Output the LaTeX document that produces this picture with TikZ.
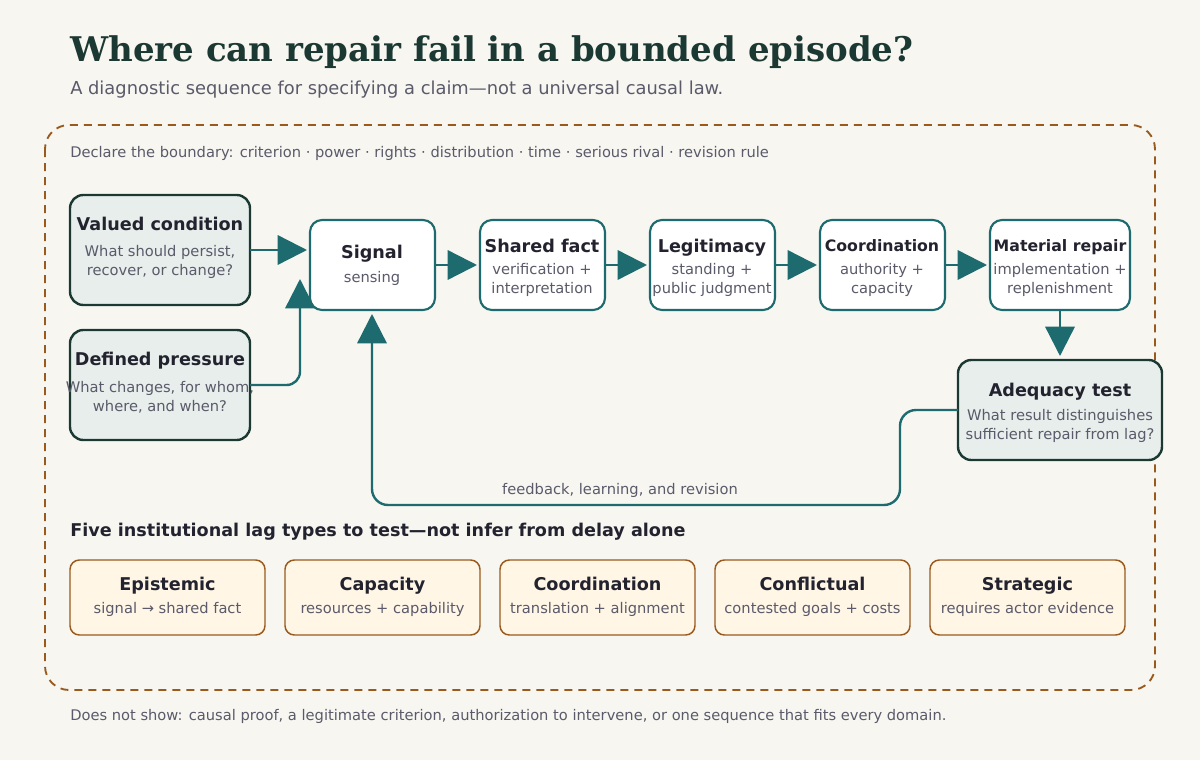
\documentclass[tikz,border=0pt]{standalone}
\usepackage{fontspec}
\setmainfont{DejaVu Sans}
\newfontfamily\serifbf{DejaVu Serif}
\usetikzlibrary{arrows.meta}
\definecolor{bg}{HTML}{F7F6F1}
\definecolor{teal}{HTML}{1D6B6E}
\definecolor{dark}{HTML}{1C3832}
\definecolor{pale}{HTML}{E7EEEB}
\definecolor{ink}{HTML}{23232F}
\definecolor{grey}{HTML}{5A5A6A}
\definecolor{brown}{HTML}{9A5A1E}
\definecolor{cream}{HTML}{FFF6E6}
\begin{document}
\begin{tikzpicture}[x=0.75pt,y=-0.75pt,
  ttl/.style={font=\bfseries\fontsize{13.2}{15}\selectfont,text=ink,anchor=base},
  sub/.style={font=\fontsize{11}{14.5}\selectfont,text=grey},
  inbox/.style={draw=dark,line width=1.8pt,fill=pale,rounded corners=10pt},
  stepbox/.style={draw=teal,line width=1.6pt,fill=white,rounded corners=9pt},
  lagbox/.style={draw=brown,line width=1.1pt,fill=cream,rounded corners=7pt},
  arr/.style={draw=teal,line width=1.8pt,-{Triangle[length=22pt,width=22pt]}}]
\fill[bg] (0,0) rectangle (1200,760);
\node[anchor=west,inner sep=0pt,font=\serifbf\bfseries\fontsize{25.5}{28}\selectfont,text=dark] (title) at (70,52) {Where can repair fail in a bounded episode?};
\node[anchor=west,inner sep=0pt,font=\fontsize{13.4}{15}\selectfont,text=grey] (subt) at (70,90) {A diagnostic sequence for specifying a claim—not a universal causal law.};
\draw[brown,line width=1.4pt,dash pattern=on 6pt off 4.5pt,rounded corners=18pt] (45,125) rectangle (1155,690);
\node[anchor=west,inner sep=0pt,sub] (bnd) at (70,153) {Declare the boundary: criterion · power · rights · distribution · time · serious rival · revision rule};
% input boxes
\draw[inbox] (70,195) rectangle (250,305);
\node[ttl] (vc) at (160,230) {Valued condition};
\node[sub,align=center] at (160,262) {What should persist,\\recover, or change?};
\draw[inbox] (70,330) rectangle (250,440);
\node[ttl] at (160,365) {Defined pressure};
\node[sub,align=center] at (160,397) {What changes, for whom,\\where, and when?};
% steps
\foreach \xa/\xb in {310/435,480/605,650/775,820/945,990/1130}{
  \draw[stepbox] (\xa,220) rectangle (\xb,310);
}
\node[ttl] at (372,258) {Signal};
\node[sub] at (372,278) {sensing};
\node[ttl] at (542,252) {Shared fact};
\node[sub,align=center] at (542,280) {verification +\\interpretation};
\node[ttl] at (712,252) {Legitimacy};
\node[sub,align=center] at (712,280) {standing +\\public judgment};
\node[ttl,font=\bfseries\fontsize{11.8}{14}\selectfont] at (882,251) {Coordination};
\node[sub,align=center] at (882,280) {authority +\\capacity};
\node[ttl,font=\bfseries\fontsize{11.8}{14}\selectfont] at (1060,251) {Material repair};
\node[sub,align=center] at (1060,280) {implementation +\\replenishment};
% adequacy
\draw[inbox] (958,360) rectangle (1162,460);
\node[ttl] at (1060,396) {Adequacy test};
\node[sub,align=center] at (1060,426) {What result distinguishes\\sufficient repair from lag?};
% arrows
\coordinate (a1) at (250,250); \coordinate (a1e) at (307,250);
\draw[arr] (a1) -- (a1e);
\coordinate (p1) at (250,385); \coordinate (p1e) at (300,279);
\draw[arr,rounded corners=10pt] (p1) -- (300,385) -- (p1e);
\foreach \xa/\xb in {435/477,605/647,775/817,945/987}{
  \coordinate (s\xa) at (\xa,265); \coordinate (e\xa) at (\xb,265);
  \draw[arr] (s\xa) -- (e\xa);}
\coordinate (m1) at (1060,310); \coordinate (m1e) at (1060,356);
\draw[arr] (m1) -- (m1e);
\coordinate (f1) at (958,410); \coordinate (f1e) at (372,314);
\draw[arr,rounded corners=12pt] (f1) -- (900,410) -- (900,505) -- (372,505) -- (f1e);
\node[sub] (fb) at (620,490) {feedback, learning, and revision};
% lag types
\node[anchor=west,inner sep=0pt,font=\bfseries\fontsize{13.2}{15}\selectfont,text=ink] (lagh) at (70,532) {Five institutional lag types to test—not infer from delay alone};
\foreach \xa/\t/\s in {70/Epistemic/{signal → shared fact},285/Capacity/{resources + capability},500/Coordination/{translation + alignment},715/Conflictual/{contested goals + costs},930/Strategic/{requires actor evidence}}{
  \draw[lagbox] (\xa,560) rectangle (\xa+195,635);
  \node[ttl] at (\xa+97.5,590) {\t};
  \node[sub] at (\xa+97.5,609) {\s};
}
\node[anchor=west,inner sep=0pt,sub] (foot) at (70,716) {Does not show: causal proof, a legitimate criterion, authorization to intervene, or one sequence that fits every domain.};
\end{tikzpicture}
\end{document}
